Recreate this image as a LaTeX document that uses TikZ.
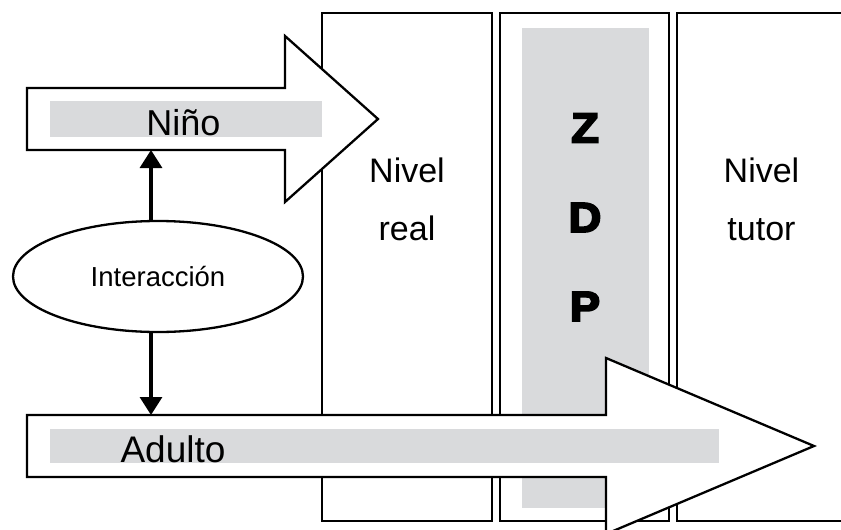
\documentclass[tikz,border=0pt]{standalone}
\usepackage{fontspec}
\setmainfont{Liberation Sans}
\newfontfamily\zdpfont[FakeBold=4.5,FakeStretch=1.08]{Liberation Sans Bold}
\usetikzlibrary{shapes.geometric,arrows.meta}
\definecolor{bargray}{RGB}{217,218,220}
\tikzset{
  outline/.style={draw=black,line width=2.3pt,line join=miter},
  bigarrow/.style={outline,fill=white},
  graybar/.style={fill=bargray,draw=none},
  conn/.style={line width=3.2pt,-{Triangle[width=22pt,length=18pt]}},
  lbl/.style={inner sep=0pt,anchor=base,font=\fontsize{34}{40}\selectfont},
  zdp/.style={inner sep=0pt,font=\zdpfont\fontsize{42}{48}\selectfont},
}
\begin{document}
\begin{tikzpicture}[x=1pt,y=-1pt]
\useasboundingbox (0,0) rectangle (841,530);
\clip (0,0) rectangle (841,530);
% columns
\draw[outline] (322,13) rectangle (492,521);
\draw[outline] (500,13) rectangle (669,521);
\draw[outline] (677,13) rectangle (846,521);
\fill[bargray] (522,28) rectangle (649,508);
% Nino arrow
\draw[bigarrow] (27,88) -- (285,88) -- (285,36) -- (378,119) -- (285,202) -- (285,150) -- (27,150) -- cycle;
\fill[graybar] (50,101) rectangle (322,137);
\node[lbl,font=\fontsize{36}{42}\selectfont] (nino) at (183.5,135) {Niño};
\coordinate (ninoBot) at (151,150);
% Adulto arrow
\draw[bigarrow] (27,415) -- (606,415) -- (606,358) -- (814,446) -- (606,534) -- (606,477) -- (27,477) -- cycle;
\fill[graybar] (50,429) rectangle (719,463);
\node[lbl,font=\fontsize{37}{42}\selectfont] (adulto) at (173,462) {Adulto};
\coordinate (adultoTop) at (151,415);
% ellipse
\node[outline,ellipse,fill=white,minimum width=290pt,minimum height=111pt,inner sep=0pt,
      font=\fontsize{27.5}{32}\selectfont] (inter) at (158,276.5) {Interacción};
\draw[conn] (inter.north -| ninoBot) -- (ninoBot);
\draw[conn] (inter.south -| adultoTop) -- (adultoTop);
% column labels
\node[lbl] (nivel1) at (407,182) {Nivel};
\node[lbl] (real) at (407,240) {real};
\node[lbl] (nivel3) at (761.5,182) {Nivel};
\node[lbl] (tutor) at (761.5,240) {tutor};
% ZDP letters
\node[zdp] (z) at (585,128) {Z};
\node[zdp] (d) at (585,217.5) {D};
\node[zdp] (p) at (585,306.5) {P};
\end{tikzpicture}
\end{document}
